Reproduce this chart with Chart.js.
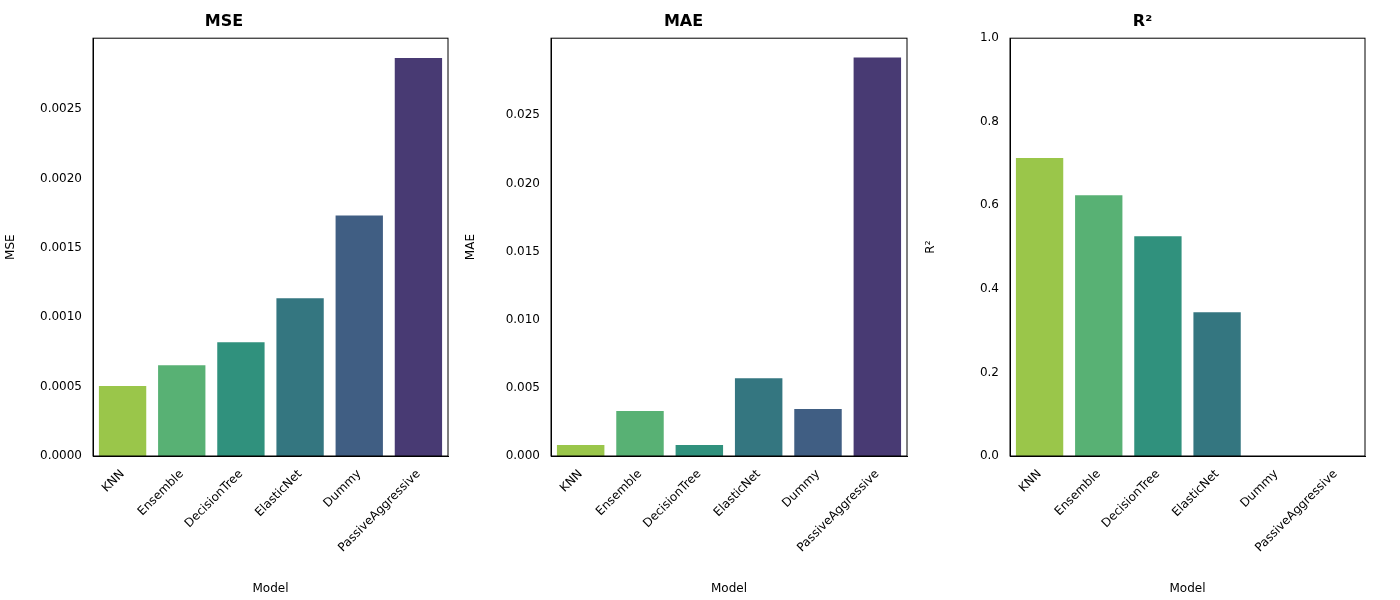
<!DOCTYPE html>
<html>
<head>
<meta charset="utf-8">
<script src="https://cdn.jsdelivr.net/npm/chart.js@4.4.0/dist/chart.umd.min.js"></script>
<style>
  body { margin: 0; background: #fff; }
  .panel { position: absolute; top: 0; height: 600px; }
</style>
</head>
<body>
<div class="panel" style="left:0;width:460px"><canvas id="c1"></canvas></div>
<div class="panel" style="left:460px;width:460px"><canvas id="c2"></canvas></div>
<div class="panel" style="left:920px;width:480px"><canvas id="c3"></canvas></div>
<script>
const models = ["KNN", "Ensemble", "DecisionTree", "ElasticNet", "Dummy", "PassiveAggressive"];
const mseValues = [0.000504, 0.000655, 0.00082, 0.001137, 0.001734, 0.00287];
const maeValues = [0.0008, 0.0033, 0.0008, 0.0057, 0.00345, 0.02925];
const r2Values = [0.713, 0.624, 0.526, 0.344, 0, 0];
const barColors = ["#9ac64a", "#58b174", "#30917d", "#347680", "#405e83", "#483a73"];

// rand runt plotytan
const frame = {
  id: "frame",
  afterDraw(chart) {
    const a = chart.chartArea, ctx = chart.ctx;
    ctx.save();
    ctx.strokeStyle = "#000";
    ctx.lineWidth = 1;
    ctx.strokeRect(a.left, a.top, a.right - a.left, a.bottom - a.top);
    ctx.restore();
  }
};

const makeChart = (id, title, values, max, step, decimals, yWidth, rightPad) => {
  const font = { family: "DejaVu Sans", size: 12 };
  new Chart(document.getElementById(id), {
    type: "bar",
    data: {
      labels: models,
      datasets: [{ data: values, backgroundColor: barColors, categoryPercentage: 0.8, barPercentage: 1 }]
    },
    options: {
      responsive: true,
      maintainAspectRatio: false,
      animation: false,
      layout: { padding: { right: rightPad, top: 0, bottom: 0, left: 0 } },
      plugins: {
        legend: { display: false },
        tooltip: { enabled: false },
        title: { display: true, text: title, color: "#000", font: { family: "DejaVu Sans", size: 16 }, padding: { top: 12, bottom: 7 } }
      },
      scales: {
        x: {
          grid: { display: false },
          border: { color: "#000" },
          ticks: { color: "#000", font: font, maxRotation: 45, minRotation: 45, autoSkip: false },
          title: { display: true, text: "Model", color: "#000", font: font },
          afterFit: (s) => { s.height = 144; }
        },
        y: {
          min: 0,
          max: max,
          grid: { display: false, drawTicks: true },
          border: { color: "#000" },
          ticks: { color: "#000", font: font, stepSize: step, callback: (v) => Number(v).toFixed(decimals) },
          afterBuildTicks: (s) => {
            s.ticks = s.ticks.filter((t) => Math.abs(t.value / step - Math.round(t.value / step)) < 1e-6);
          },
          title: { display: true, text: title, color: "#000", font: font },
          afterFit: (s) => { s.width = yWidth; }
        }
      }
    },
    plugins: [frame]
  });
};

makeChart("c1", "MSE", mseValues, 0.003013, 0.0005, 4, 93, 12);
makeChart("c2", "MAE", maeValues, 0.03066, 0.005, 3, 91, 13);
makeChart("c3", "R²", r2Values, 1.0, 0.2, 1, 90, 35);
</script>
</body>
</html>
